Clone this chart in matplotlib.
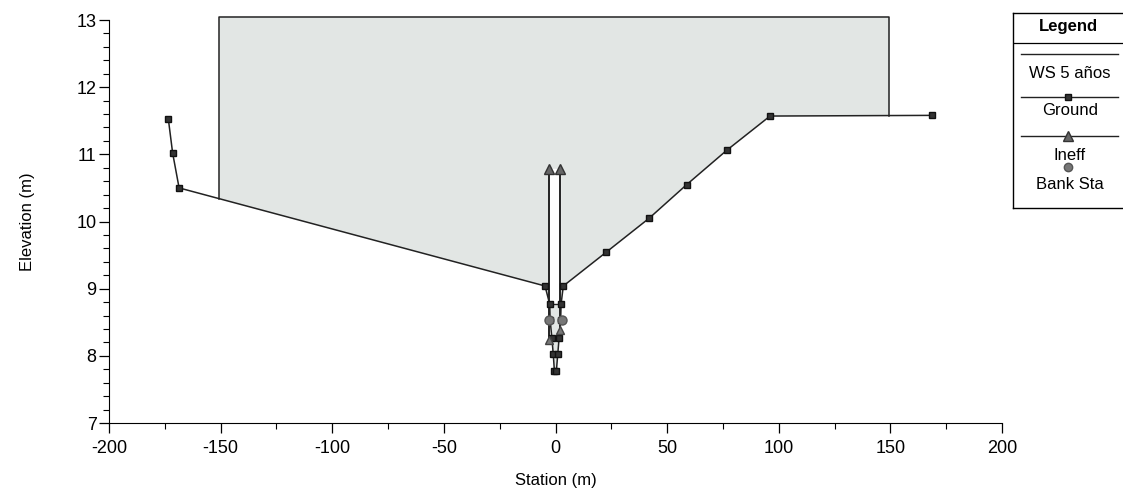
import matplotlib
matplotlib.use("Agg")
import matplotlib.pyplot as plt
from matplotlib.lines import Line2D
from matplotlib.ticker import MultipleLocator
import numpy as np

plt.rcParams["font.family"] = ["Liberation Sans", "DejaVu Sans"]
plt.rcParams["axes.unicode_minus"] = False

# Ground profile (station m, elevation m)
ground_sta = [-173.4, -171.5, -168.6, -4.7, -2.6, -2.4, -1.6, -1.0, -0.5,
              0.4, 1.0, 1.6, 2.3, 2.5, 3.5, 22.6, 42.0, 58.8, 76.7, 96.1, 168.8]
ground_elev = [11.52, 11.02, 10.50, 9.04, 8.77, 8.53, 8.26, 8.02, 7.78,
               7.78, 8.02, 8.26, 8.53, 8.77, 9.04, 9.54, 10.05, 10.55, 11.06, 11.57, 11.58]

# Water surface
ws_elev = 13.04
ws_left = -150.6
ws_right = 149.5

# Ineffective flow markers
ineff_sta = [-2.7, 2.2]
ineff_low = [8.24, 8.39]
ineff_high = [10.78, 10.78]

# Bank stations
bank_sta = [-2.8, 2.7]
bank_elev = [8.53, 8.53]

legend_labels = ["WS 5 años", "Ground", "Ineff", "Bank Sta"]

W, H = 1123, 497
fig = plt.figure(figsize=(W / 100, H / 100), dpi=100)
ax = fig.add_axes([109 / W, 1 - 423 / H, (1002 - 109) / W, (423 - 20) / H])

# water polygon: WS line down to ground between edges
gs = np.array(ground_sta)
ge = np.array(ground_elev)
left_ground = np.interp(ws_left, gs, ge)
right_ground = np.interp(ws_right, gs, ge)
inside = (gs > ws_left) & (gs < ws_right)
poly_x = [ws_left] + list(gs[inside]) + [ws_right, ws_right, ws_left]
poly_y = [left_ground] + list(ge[inside]) + [right_ground, ws_elev, ws_elev]
ax.fill(poly_x, poly_y, facecolor="#e2e6e4", edgecolor="none", zorder=1, clip_on=False)
ax.plot([ws_left, ws_left, ws_right, ws_right],
        [left_ground, ws_elev, ws_elev, right_ground],
        color="#222222", lw=1.1, zorder=2, clip_on=False)

# white strip between ineffective lines
ax.fill_between(ineff_sta, [8.77, 8.77], ineff_high, color="white", zorder=2)
ax.plot(ineff_sta, [8.77, 8.77], color="#222222", lw=1.0, zorder=3)

# ground
ax.plot(ground_sta, ground_elev, color="#222222", lw=1.1, marker="s",
        markersize=4.5, markerfacecolor="#333333", markeredgecolor="#111111", zorder=4)

# ineffective lines
for s, lo, hi in zip(ineff_sta, ineff_low, ineff_high):
    ax.plot([s, s], [lo, hi], color="#222222", lw=1.4, zorder=3)
    ax.plot([s], [hi], marker="^", markersize=7, color="#666666",
            markeredgecolor="#333333", zorder=5)
    ax.plot([s], [lo], marker="^", markersize=6, color="#777777",
            markeredgecolor="#444444", zorder=5)

# bank stations
ax.plot(bank_sta, bank_elev, ls="none", marker="o", markersize=6.5,
        markerfacecolor="#777777", markeredgecolor="#555555", zorder=6)

ax.set_xlim(-200, 200)
ax.set_ylim(7, 13)
ax.xaxis.set_major_locator(MultipleLocator(50))
ax.xaxis.set_minor_locator(MultipleLocator(25))
ax.yaxis.set_major_locator(MultipleLocator(1))
ax.yaxis.set_minor_locator(MultipleLocator(0.2))
ax.spines["top"].set_visible(False)
ax.spines["right"].set_visible(False)
ax.tick_params(which="major", length=7, width=0.9, labelsize=13, direction="out")
ax.tick_params(which="minor", length=4, width=0.8, direction="out")
ax.tick_params(axis="x", pad=5)
ax.tick_params(axis="y", pad=2)
ax.set_xlabel("Station (m)", fontsize=12, labelpad=12)
ax.set_ylabel("Elevation (m)", fontsize=12, labelpad=30)

# legend panel, in pixel coordinates
lax = fig.add_axes([1013 / W, 1 - 208 / H, (1130 - 1013) / W, (208 - 13) / H])
lax.set_xlim(1013, 1130)
lax.set_ylim(208, 13)
lax.set_xticks([])
lax.set_yticks([])
for sp in lax.spines.values():
    sp.set_linewidth(1.0)
lax.text(1068, 26, "Legend", ha="center", va="center", fontsize=12, fontweight="bold")
lax.plot([1013, 1130], [43, 43], color="black", lw=0.9)

sample_y = [54, 97, 136, 167]
text_y = [73, 110, 155, 184]
styles = [
    dict(marker=None),
    dict(marker="s", markersize=4, markerfacecolor="#333333", markeredgecolor="#111111"),
    dict(marker="^", markersize=7, markerfacecolor="#666666", markeredgecolor="#333333"),
    dict(marker="o", markersize=6, markerfacecolor="#777777", markeredgecolor="#555555", ls="none"),
]
for label, sy, ty, st in zip(legend_labels, sample_y, text_y, styles):
    st = dict(st)
    ls = st.pop("ls", "-")
    lax.add_line(Line2D([1021, 1068, 1118], [sy, sy, sy], color="#222222", lw=1.0,
                        ls=ls, markevery=[1], **st))
    lax.text(1070, ty, label, ha="center", va="center", fontsize=12)

fig.savefig("out.png", dpi=100)
